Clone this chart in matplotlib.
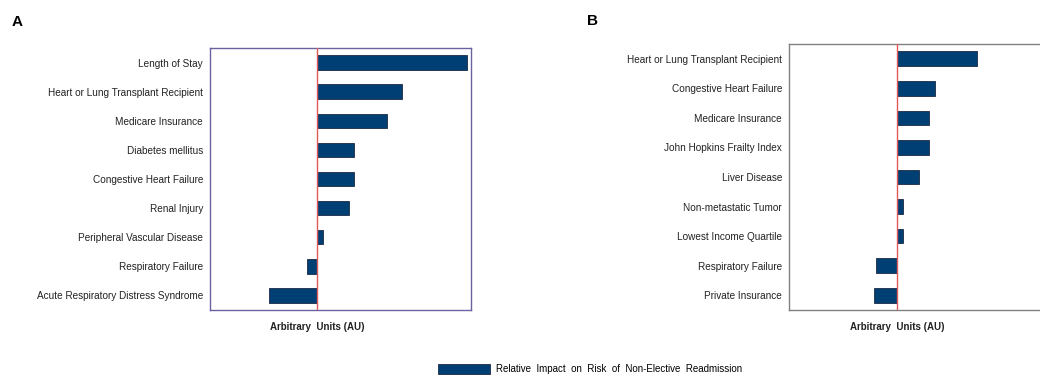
import matplotlib
matplotlib.use("Agg")
import matplotlib.pyplot as plt
from matplotlib.patches import Patch

plt.rcParams['font.family'] = ['Liberation Sans', 'DejaVu Sans']

# Panel A: factors and their relative impact (arbitrary units)
labels_a = ["Length of Stay", "Heart or Lung Transplant Recipient", "Medicare Insurance",
            "Diabetes mellitus", "Congestive Heart Failure", "Renal Injury",
            "Peripheral Vascular Disease", "Respiratory Failure",
            "Acute Respiratory Distress Syndrome"]
values_a = [150, 85, 70, 37, 37, 32, 6, -10, -48]

# Panel B
labels_b = ["Heart or Lung Transplant Recipient", "Congestive Heart Failure", "Medicare Insurance",
            "John Hopkins Frailty Index", "Liver Disease", "Non-metastatic Tumor",
            "Lowest Income Quartile", "Respiratory Failure", "Private Insurance"]
values_b = [80, 38, 32, 32, 22, 6, 6, -21, -23]

legend_label = "Relative  Impact  on  Risk  of  Non-Elective  Readmission"
xlabel = "Arbitrary  Units (AU)"

W, H = 1040, 377
fig = plt.figure(figsize=(W / 100, H / 100), dpi=100)

bar_color = "#003f73"
edge_color = "#1c2a44"
zero_color = "#e05a5a"


def px_axes(x0, y0, x1, y1):
    return fig.add_axes([x0 / W, 1 - y1 / H, (x1 - x0) / W, (y1 - y0) / H])


def draw_panel(ax, labels, values, spine_color, xlim):
    y = list(range(len(labels)))
    ax.barh(y, values, height=0.5, color=bar_color, edgecolor=edge_color, linewidth=0.6, zorder=2)
    ax.axvline(0, color=zero_color, linewidth=1.0, zorder=3)
    ax.set_ylim(len(labels) - 0.5, -0.5)
    ax.set_xlim(*xlim)
    ax.set_yticks(y)
    ax.set_yticklabels(labels, fontsize=7.2, color="#222222")
    ax.tick_params(axis="y", length=0, pad=5)
    ax.set_xticks([])
    for s in ax.spines.values():
        s.set_color(spine_color)
        s.set_linewidth(1.0)
    ax.text(0, -0.045, xlabel, transform=ax.get_xaxis_transform(), ha="center", va="top",
            fontsize=7, fontweight="bold", color="#222222")


ax_a = px_axes(210, 48, 471, 310)
draw_panel(ax_a, labels_a, values_a, "#6b62a0", (-107, 154))

ax_b = px_axes(789, 44, 1051, 310)
draw_panel(ax_b, labels_b, values_b, "#808080", (-108, 154))

fig.text(12 / W, 1 - 22 / H, "A", fontsize=11, fontweight="bold", va="center", ha="left")
fig.text(587 / W, 1 - 21 / H, "B", fontsize=11, fontweight="bold", va="center", ha="left")

fig.legend(handles=[Patch(facecolor=bar_color, edgecolor=edge_color, linewidth=0.6)],
           labels=[legend_label], loc="center", bbox_to_anchor=(590 / W, 1 - 369 / H),
           frameon=False, fontsize=7, handlelength=5.3, handleheight=1.3, handletextpad=0.6)

fig.savefig("out.png", dpi=100, facecolor="white")
